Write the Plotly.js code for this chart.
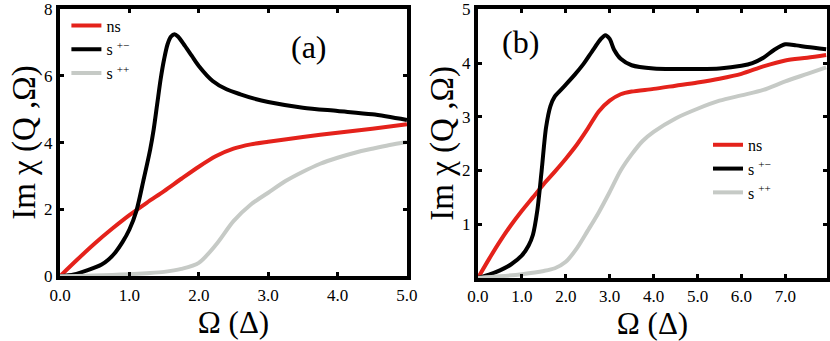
<!DOCTYPE html>
<html>
<head>
<meta charset="utf-8">
<script src="https://cdn.plot.ly/plotly-3.0.1.min.js"></script>
<style>
  html, body { margin: 0; padding: 0; background: #fff; }
  #plot { width: 830px; height: 341px; }
</style>
</head>
<body>
<div id="plot"></div>
<script>
// panel (a)
const aNsX = [0, 0.25, 0.5, 0.75, 1.0, 1.25, 1.5, 1.75, 2.0, 2.25, 2.5, 2.75, 3.0, 3.5, 4.0, 4.5, 5.0];
const aNsY = [0, 0.5, 0.98, 1.42, 1.83, 2.2, 2.55, 2.92, 3.28, 3.6, 3.82, 3.95, 4.03, 4.17, 4.3, 4.42, 4.55];

const aPmX = [0, 0.2, 0.4, 0.6, 0.7, 0.8, 0.9, 1.0, 1.1, 1.2, 1.3, 1.35, 1.4, 1.45, 1.5, 1.55, 1.6, 1.65, 1.7, 1.8, 1.9, 2.0, 2.2, 2.4, 2.6, 2.8, 3.0, 3.5, 4.0, 4.5, 5.0];
const aPmY = [0, 0.05, 0.18, 0.35, 0.5, 0.72, 1.02, 1.4, 1.95, 2.85, 3.8, 4.4, 5.15, 5.9, 6.5, 6.95, 7.18, 7.25, 7.18, 6.9, 6.6, 6.3, 5.85, 5.6, 5.45, 5.32, 5.22, 5.05, 4.95, 4.85, 4.68];

const aPpX = [0, 0.25, 0.5, 0.75, 1.0, 1.25, 1.5, 1.75, 2.0, 2.25, 2.5, 2.75, 3.0, 3.25, 3.5, 3.75, 4.0, 4.25, 4.5, 4.75, 5.0];
const aPpY = [0, 0.01, 0.02, 0.04, 0.06, 0.09, 0.13, 0.22, 0.4, 0.95, 1.65, 2.15, 2.5, 2.85, 3.13, 3.37, 3.55, 3.7, 3.82, 3.93, 4.02];

// panel (b)
const bNsX = [0, 0.25, 0.5, 0.75, 1.0, 1.25, 1.5, 1.75, 2.0, 2.25, 2.5, 2.75, 3.0, 3.25, 3.5, 4.0, 4.5, 5.0, 5.5, 6.0, 6.5, 7.0, 7.5, 7.93];
const bNsY = [0, 0.35, 0.68, 0.98, 1.25, 1.5, 1.75, 1.98, 2.22, 2.48, 2.78, 3.1, 3.3, 3.42, 3.47, 3.52, 3.58, 3.64, 3.71, 3.8, 3.94, 4.05, 4.1, 4.15];

const bPmX = [0, 0.25, 0.5, 0.75, 1.0, 1.15, 1.25, 1.35, 1.45, 1.55, 1.65, 1.75, 1.85, 2.0, 2.2, 2.4, 2.6, 2.8, 2.9, 3.0, 3.1, 3.25, 3.5, 4.0, 4.5, 5.0, 5.5, 6.0, 6.25, 6.5, 6.75, 7.0, 7.25, 7.5, 7.93];
const bPmY = [0, 0.06, 0.14, 0.25, 0.42, 0.6, 0.8, 1.25, 2.0, 2.8, 3.2, 3.38, 3.47, 3.6, 3.78, 3.98, 4.22, 4.45, 4.52, 4.45, 4.25, 4.08, 3.96, 3.9, 3.89, 3.89, 3.9, 3.95, 4.0, 4.1, 4.25, 4.35, 4.33, 4.3, 4.26];

const bPpX = [0, 0.5, 1.0, 1.5, 1.75, 2.0, 2.25, 2.5, 2.75, 3.0, 3.25, 3.5, 3.75, 4.0, 4.5, 5.0, 5.5, 6.0, 6.5, 7.0, 7.5, 7.93];
const bPpY = [0, 0.03, 0.07, 0.13, 0.18, 0.3, 0.55, 0.88, 1.22, 1.6, 2.0, 2.3, 2.55, 2.72, 2.97, 3.15, 3.3, 3.4, 3.5, 3.66, 3.8, 3.92];

const names = ['ns', 's <sup>+−</sup>', 's <sup>++</sup>'];
const colors = ['#e4221b', '#000000', '#c6cac6'];
const serif = 'Liberation Serif';

function line(x, y, i, xa, ya, leg) {
  return {
    x: x, y: y, type: 'scatter', mode: 'lines',
    name: names[i], xaxis: xa, yaxis: ya, legend: leg,
    line: {color: colors[i], width: 4, shape: 'spline', smoothing: 0.8}
  };
}

const data = [
  line(aNsX, aNsY, 0, 'x', 'y', 'legend'),
  line(aPmX, aPmY, 1, 'x', 'y', 'legend'),
  line(aPpX, aPpY, 2, 'x', 'y', 'legend'),
  line(bNsX, bNsY, 0, 'x2', 'y2', 'legend2'),
  line(bPmX, bPmY, 1, 'x2', 'y2', 'legend2'),
  line(bPpX, bPpY, 2, 'x2', 'y2', 'legend2')
];

const axBase = {
  showline: true, linecolor: '#000', linewidth: 4, mirror: 'ticks',
  ticks: 'inside', ticklen: 4, tickwidth: 3, tickcolor: '#000',
  showgrid: false, zeroline: false, automargin: false,
  tickfont: {family: serif, size: 17, color: '#000'}
};
const xTitle = {text: 'Ω (Δ)', font: {family: serif, size: 31, color: '#000'}, standoff: 2};
const yTitle = {text: 'Im χ (Q ,Ω)', font: {family: serif, size: 33, color: '#000'}, standoff: 0};

const layout = {
  width: 830, height: 341,
  margin: {l: 0, r: 0, t: 0, b: 0},
  font: {family: serif, color: '#000'},
  paper_bgcolor: '#fff', plot_bgcolor: '#fff',
  xaxis: Object.assign({}, axBase, {
    domain: [0.0723, 0.4904], range: [0, 5.001],
    tickvals: [0, 1, 2, 3, 4, 5], ticktext: ['0.0', '1.0', '2.0', '3.0', '4.0', '5.0'],
    title: xTitle
  }),
  yaxis: Object.assign({}, axBase, {
    domain: [0.19, 0.974], range: [0, 8.01],
    tickvals: [0, 2, 4, 6, 8], title: yTitle
  }),
  xaxis2: Object.assign({}, axBase, {
    domain: [0.5759, 0.9964], range: [0, 7.95], anchor: 'y2',
    tickvals: [0, 1, 2, 3, 4, 5, 6, 7],
    ticktext: ['0.0', '1.0', '2.0', '3.0', '4.0', '5.0', '6.0', '7.0'],
    title: xTitle
  }),
  yaxis2: Object.assign({}, axBase, {
    domain: [0.185, 0.974], range: [0, 5.01], anchor: 'x2',
    tickvals: [1, 2, 3, 4, 5], title: yTitle
  }),
  legend: {
    x: 0.08, y: 0.975, xanchor: 'left', yanchor: 'top',
    bgcolor: 'rgba(0,0,0,0)', tracegroupgap: 0, itemwidth: 30,
    font: {family: serif, size: 16, color: '#000'}
  },
  legend2: {
    x: 0.853, y: 0.625, xanchor: 'left', yanchor: 'top',
    bgcolor: 'rgba(0,0,0,0)', tracegroupgap: 0, itemwidth: 30,
    font: {family: serif, size: 16, color: '#000'}
  },
  annotations: [
    {text: '(a)', xref: 'paper', yref: 'paper', x: 0.372, y: 0.862,
     xanchor: 'center', yanchor: 'middle', showarrow: false,
     font: {family: serif, size: 32, color: '#000'}},
    {text: '(b)', xref: 'paper', yref: 'paper', x: 0.627, y: 0.877,
     xanchor: 'center', yanchor: 'middle', showarrow: false,
     font: {family: serif, size: 32, color: '#000'}}
  ],
  showlegend: true
};

Plotly.newPlot('plot', data, layout, {staticPlot: true});
</script>
</body>
</html>
